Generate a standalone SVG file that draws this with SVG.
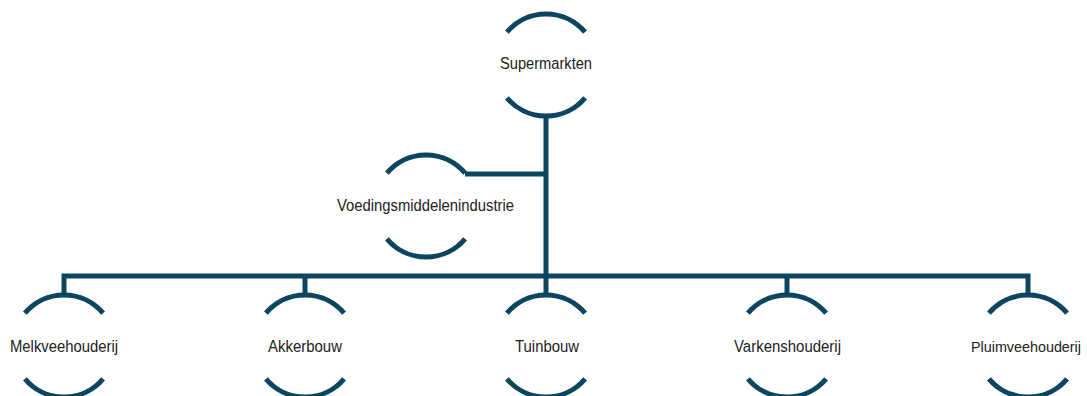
<svg xmlns="http://www.w3.org/2000/svg" width="1087" height="396" viewBox="0 0 1087 396">
<style>
.arc{fill:none;stroke:#0c4560;stroke-width:5}
.con{fill:none;stroke:#0c4560;stroke-width:5;stroke-linejoin:miter}
.lbl{font-family:"Liberation Sans",Arial,sans-serif;font-size:16px;fill:#222;text-anchor:middle}
</style>
<defs>
<g id="shape">
<path class="arc" d="M-39.07 -32.78 A51 51 0 0 1 39.07 -32.78"/>
<path class="arc" d="M-39.07 32.78 A51 51 0 0 0 39.07 32.78"/>
</g>
</defs>
<g id="connectors">
<path class="con" d="M546 116 V295"/>
<path class="con" d="M465 174 H546"/>
<path class="con" d="M64 295 V276 H1028 V295"/>
<path class="con" d="M305 276 V295"/>
<path class="con" d="M787 276 V295"/>
</g>
<g id="supermarkten">
<use href="#shape" x="546" y="65"/>
<text class="lbl" x="546" y="69" textLength="92" lengthAdjust="spacingAndGlyphs">Supermarkten</text>
</g>
<g id="voedingsmiddelenindustrie">
<use href="#shape" x="426" y="206"/>
<text class="lbl" x="425.5" y="211" textLength="177" lengthAdjust="spacingAndGlyphs">Voedingsmiddelenindustrie</text>
</g>
<g id="melkveehouderij">
<use href="#shape" x="64" y="346"/>
<text class="lbl" x="64" y="352" textLength="108" lengthAdjust="spacingAndGlyphs">Melkveehouderij</text>
</g>
<g id="akkerbouw">
<use href="#shape" x="305" y="346"/>
<text class="lbl" x="305" y="352" textLength="74" lengthAdjust="spacingAndGlyphs">Akkerbouw</text>
</g>
<g id="tuinbouw">
<use href="#shape" x="546" y="346"/>
<text class="lbl" x="547" y="352" textLength="64" lengthAdjust="spacingAndGlyphs">Tuinbouw</text>
</g>
<g id="varkenshouderij">
<use href="#shape" x="787" y="346"/>
<text class="lbl" x="787.5" y="352" textLength="107" lengthAdjust="spacingAndGlyphs">Varkenshouderij</text>
</g>
<g id="pluimveehouderij">
<use href="#shape" x="1028" y="346"/>
<text class="lbl" x="1026" y="352" style="font-size:15px" textLength="110" lengthAdjust="spacingAndGlyphs">Pluimveehouderij</text>
</g>
</svg>
